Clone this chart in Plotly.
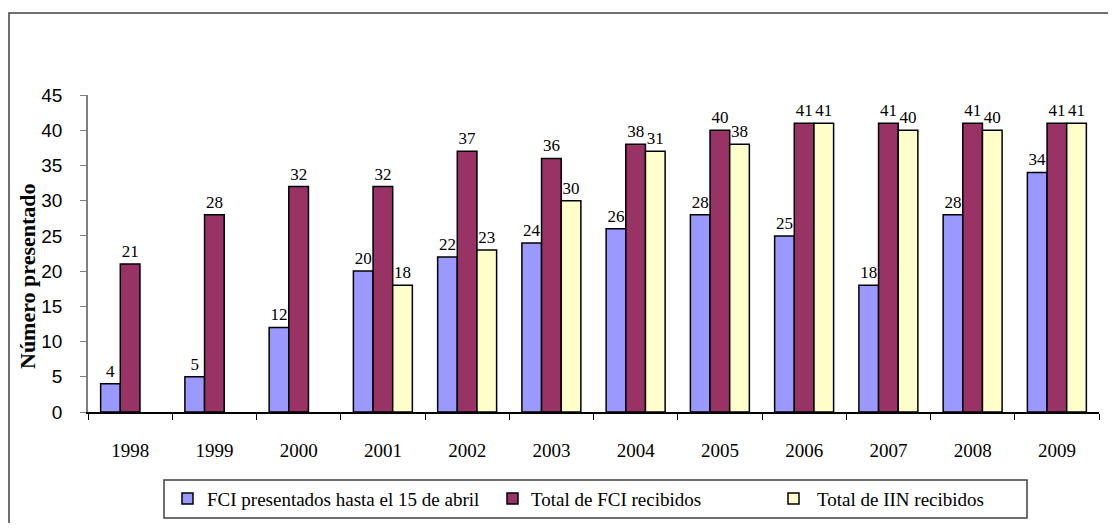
import plotly.graph_objects as go

years = ["1998", "1999", "2000", "2001", "2002", "2003", "2004", "2005", "2006", "2007", "2008", "2009"]
fci_abril = [4, 5, 12, 20, 22, 24, 26, 28, 25, 18, 28, 34]
fci_total = [21, 28, 32, 32, 37, 36, 38, 40, 41, 41, 41, 41]
iin_total = [None, None, None, 18, 23, 30, 37, 38, 41, 40, 40, 41]
iin_labels = ["", "", "", "18", "23", "30", "31", "38", "41", "40", "40", "41"]

names = ["FCI presentados hasta el 15 de abril", "Total de FCI recibidos", "Total de IIN recibidos"]
colors = ["#9999FF", "#993366", "#FFFFCC"]

OFF = 8  # page body margin
W, H = 1116 - OFF, 531 - 2 * OFF
L, T = 88 - OFF, 95 - OFF
R = W - (1099 - OFF)
B = H - (412 - OFF)
PW, PH = W - L - R, H - T - B


def px(x):
    # screen x -> paper
    return (x - OFF - L) / PW


def py(y):
    # screen y -> paper
    return (H - B - (y - OFF)) / PH


serif = "Liberation Serif, Times New Roman, serif"
sans = "Liberation Sans, Arial, sans-serif"

fig = go.Figure()
series = [fci_abril, fci_total, iin_total]
texts = [[str(v) for v in fci_abril], [str(v) for v in fci_total], iin_labels]
for vals, txt, name, col in zip(series, texts, names, colors):
    fig.add_trace(go.Bar(
        x=years, y=vals, name=name, text=txt, textposition="outside",
        textfont=dict(family=serif, size=17, color="black"),
        marker=dict(color=col, line=dict(color="black", width=1.5)),
        constraintext="none", cliponaxis=False, showlegend=False,
    ))

fig.update_layout(
    width=W, height=H, margin=dict(l=L, r=R, t=T, b=B, autoexpand=False),
    paper_bgcolor="white", plot_bgcolor="white",
    barmode="group", bargap=0.3, bargroupgap=0,
    showlegend=False,
    xaxis=dict(showline=True, linecolor="black", linewidth=1.5, ticks="outside",
               tickson="boundaries", ticklen=6, tickcolor="black", tickwidth=1,
               tickfont=dict(family=serif, size=19, color="black"),
               ticklabelstandoff=20, showgrid=False, fixedrange=True),
    yaxis=dict(range=[0, 45], dtick=5, showline=True, linecolor="#808080", linewidth=1.5,
               ticks="outside", ticklen=6, tickcolor="#808080", tickwidth=1,
               tickfont=dict(family=sans, size=19, color="black"),
               ticklabelstandoff=14, showgrid=False, zeroline=False, fixedrange=True),
)

# Y axis title
fig.add_annotation(text="<b>Número presentado</b>", textangle=-90, xref="paper", yref="paper",
                   x=px(27), y=py(276), xanchor="center", yanchor="middle", showarrow=False,
                   font=dict(family=serif, size=22, color="black"))

shapes = []
# outer frame
shapes.append(dict(type="rect", xref="paper", yref="paper", x0=px(9), x1=px(1115),
                   y0=py(560), y1=py(13), line=dict(color="#404040", width=1.5),
                   fillcolor="rgba(0,0,0,0)", layer="below"))
# legend box
shapes.append(dict(type="rect", xref="paper", yref="paper", x0=px(164), x1=px(1027),
                   y0=py(518), y1=py(480), line=dict(color="#404040", width=1.5),
                   fillcolor="rgba(0,0,0,0)"))
leg_x = [182, 507, 788]
leg_tx = [205, 529, 815]
for lx, tx, name, col in zip(leg_x, leg_tx, names, colors):
    shapes.append(dict(type="rect", xref="paper", yref="paper", x0=px(lx), x1=px(lx + 11),
                       y0=py(504), y1=py(493), line=dict(color="black", width=1.5),
                       fillcolor=col))
    fig.add_annotation(text=name, xref="paper", yref="paper", x=px(tx), y=py(499),
                       xanchor="left", yanchor="middle", showarrow=False,
                       font=dict(family=serif, size=19, color="black"))
fig.update_layout(shapes=shapes)

fig.write_html("out.html")
